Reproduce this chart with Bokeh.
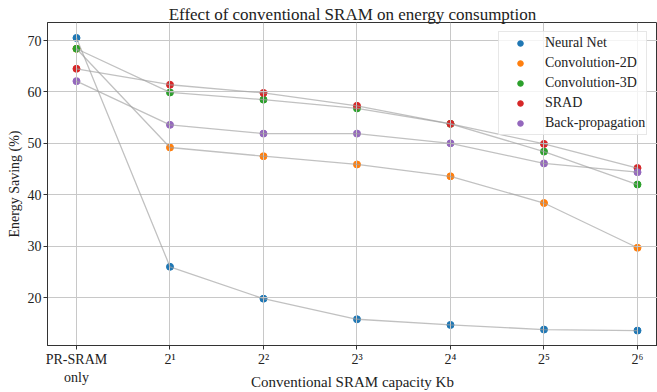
from bokeh.plotting import figure
from bokeh.models import FixedTicker, Legend, LegendItem
from bokeh.embed import file_html
from bokeh.resources import INLINE

# ---- data ----
x_pos = [0, 1, 2, 3, 4, 5, 6]
tick_labels = ["PR-SRAM\nonly", "2¹", "2²", "2³", "2⁴", "2⁵", "2⁶"]
series_names = ["Neural Net", "Convolution-2D", "Convolution-3D", "SRAD", "Back-propagation"]
neural_net = [70.5, 26.0, 19.8, 15.8, 14.7, 13.8, 13.6]
conv_2d = [68.4, 49.2, 47.5, 45.9, 43.6, 38.4, 29.7]
conv_3d = [68.4, 59.9, 58.5, 56.8, 53.8, 48.4, 42.0]
srad = [64.5, 61.4, 59.8, 57.3, 53.8, 49.9, 45.2]
back_prop = [62.1, 53.6, 51.9, 51.9, 50.0, 46.1, 44.4]
colors = ["#1f77b4", "#ff7f0e", "#2ca02c", "#d62728", "#9467bd"]
title_text = "Effect of conventional SRAM on energy consumption"
x_label = "Conventional SRAM capacity Kb"
y_label = "Energy Saving (%)"

FONT = '"Liberation Serif"'

p = figure(width=657, height=392, output_backend="svg", toolbar_location=None,
           x_range=(-0.31, 6.214), y_range=(10.7, 73.5),
           min_border_left=47, min_border_right=0, min_border_top=22, min_border_bottom=40,
           title=title_text)
p.background_fill_color = "white"
p.outline_line_color = "#333333"
p.outline_line_width = 1

p.title.text_font = FONT
p.title.text_font_size = "17px"
p.title.text_font_style = "normal"
p.title.text_color = "#222222"
p.title.align = "center"
p.title.standoff = -2
p.title.offset = 4

# grid
for g in (p.xgrid, p.ygrid):
    g.grid_line_color = "#c8c8c8"
    g.grid_line_width = 1

# axes
p.xaxis.ticker = FixedTicker(ticks=x_pos)
p.xaxis.major_label_overrides = {i: t for i, t in zip(x_pos, tick_labels)}
p.yaxis.ticker = FixedTicker(ticks=[20, 30, 40, 50, 60, 70])
p.xaxis.axis_label = x_label
p.yaxis.axis_label = y_label
for ax in (p.xaxis[0], p.yaxis[0]):
    ax.axis_line_color = "#333333"
    ax.major_tick_line_color = "#333333"
    ax.major_tick_in = 0
    ax.major_tick_out = 4
    ax.minor_tick_line_color = None
    ax.major_label_text_font = FONT
    ax.major_label_text_font_size = "14px"
    ax.major_label_text_color = "#222222"
    ax.major_label_standoff = 2
    ax.axis_label_text_font = FONT
    ax.axis_label_text_font_size = "15px"
    ax.axis_label_text_font_style = "normal"
    ax.axis_label_text_color = "#222222"
p.yaxis[0].axis_label_text_font_size = "14px"
p.yaxis[0].axis_label_standoff = 3
p.xaxis[0].axis_label_standoff = -14

series = [neural_net, conv_2d, conv_3d, srad, back_prop]
items = []
for name, ys, c in zip(series_names, series, colors):
    r = p.scatter(x_pos, ys, size=7, fill_color=c, line_color=c, level="image")
    items.append(LegendItem(label=name, renderers=[r]))
for ys in series:
    p.line(x_pos, ys, line_color="#a0a0a0", line_alpha=0.65, line_width=1.3)

legend = Legend(items=items, location=(451, 210))
legend.label_text_font = FONT
legend.label_text_font_size = "14px"
legend.label_text_color = "#222222"
legend.padding = 1
legend.spacing = 0
legend.margin = 0
legend.glyph_width = 40
legend.glyph_height = 14
legend.label_height = 20
legend.label_standoff = 5
legend.border_line_color = "#d0d0d0"
legend.background_fill_alpha = 0.8
p.add_layout(legend, "center")

open("out.html", "w").write(file_html(p, INLINE))
